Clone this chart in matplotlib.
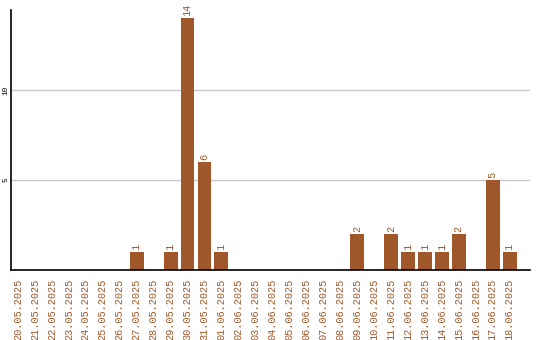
import matplotlib
matplotlib.use("Agg")
import matplotlib.pyplot as plt

dates = ["20.05.2025", "21.05.2025", "22.05.2025", "23.05.2025", "24.05.2025",
         "25.05.2025", "26.05.2025", "27.05.2025", "28.05.2025", "29.05.2025",
         "30.05.2025", "31.05.2025", "01.06.2025", "02.06.2025", "03.06.2025",
         "04.06.2025", "05.06.2025", "06.06.2025", "07.06.2025", "08.06.2025",
         "09.06.2025", "10.06.2025", "11.06.2025", "12.06.2025", "13.06.2025",
         "14.06.2025", "15.06.2025", "16.06.2025", "17.06.2025", "18.06.2025"]
counts = [0, 0, 0, 0, 0, 0, 0, 1, 0, 1,
          14, 6, 1, 0, 0, 0, 0, 0, 0, 0,
          2, 0, 2, 1, 1, 1, 2, 0, 5, 1]

brown = "#a0582a"
mono = "Liberation Mono"

fig = plt.figure(figsize=(5.4, 3.4), dpi=100)
ax = fig.add_axes([11 / 540, 70 / 340, 519 / 540, 260 / 340])

x = list(range(len(dates)))
ax.bar(x, counts, width=0.82, color=brown, zorder=2)

# value labels above non-empty bars
for i, v in enumerate(counts):
    if v > 0:
        ax.text(i, v + 0.12, str(v), rotation=90, ha="center", va="bottom",
                color=brown, fontsize=7.4, family=mono)

ax.set_xlim(-0.41, 30.2)
ax.set_ylim(0, 14.45)
ax.set_xticks(x)
ax.set_xticklabels(dates, rotation=90, color=brown, fontsize=7.4, family=mono)
ax.set_yticks([5, 10])
ax.set_yticklabels(["5", "10"], rotation=90, va="center", fontsize=5.5, family=mono)
ax.tick_params(axis="y", length=0, pad=1)
ax.tick_params(axis="x", length=0, pad=6)
ax.yaxis.grid(True, color="#c8c8c8", linewidth=1, zorder=0)

ax.spines["top"].set_visible(False)
ax.spines["right"].set_visible(False)
ax.spines["left"].set_linewidth(1.2)
ax.spines["bottom"].set_linewidth(1.2)

fig.savefig("out.png", dpi=100)
